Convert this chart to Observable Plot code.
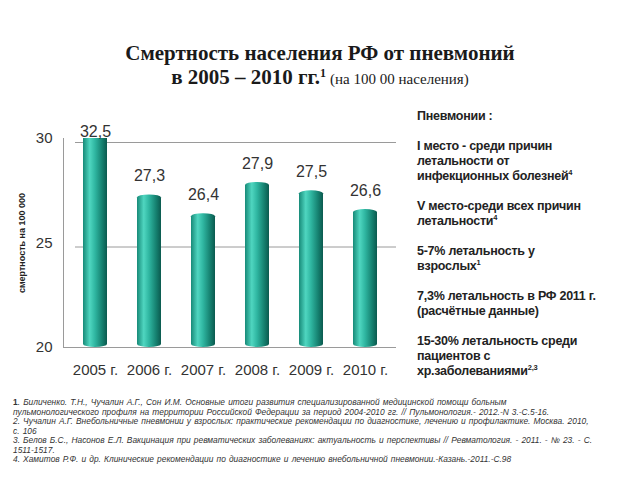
<!DOCTYPE html>
<html>
<head>
<meta charset="utf-8">
<script src="https://cdn.jsdelivr.net/npm/d3@7"></script>
<script src="https://cdn.jsdelivr.net/npm/@observablehq/plot@0.6"></script>
<style>
  html, body { margin: 0; padding: 0; background: #fff; width: 640px; height: 480px; overflow: hidden; }
  #title { position: absolute; left: 0; top: 41px; width: 640px; text-align: center;
    font-family: "Liberation Serif", "Times New Roman", serif; color: #1a1a1a; line-height: 24px; }
  #title .big { font-size: 21px; font-weight: bold; }
  #title sup { font-size: 12px; vertical-align: 7px; line-height: 0; }
  #title .small { font-size: 15px; font-weight: normal; }
  #chart { position: absolute; left: 0; top: 100px; }
  #side { position: absolute; left: 417px; top: 109px; width: 220px;
    font-family: Arial, "Liberation Sans", sans-serif; font-weight: bold; font-size: 12.5px;
    line-height: 15px; color: #222; letter-spacing: -0.25px; white-space: nowrap; }
  #side sup { font-size: 7.5px; vertical-align: 5px; line-height: 0; }
  #notes { position: absolute; left: 13px; top: 398px; width: 620px;
    font-family: Arial, "Liberation Sans", sans-serif; font-style: italic; font-size: 8.4px;
    line-height: 9.5px; color: #333; white-space: nowrap; word-spacing: 0.8px; }
  #notes div { height: 9.5px; }
  #notes span { display: inline-block; }
  #notes b { font-style: normal; }
  #chart svg [aria-label="y-axis label"] text, #chart svg [aria-label="y-axis label"] { font-size: 9px; font-weight: bold; fill: #222; }
</style>
</head>
<body>
<div id="title">
  <div class="big">Смертность населения РФ от пневмоний</div>
  <div><span class="big">в 2005 – 2010 гг.<sup>1</sup></span> <span class="small">(на 100 00 населения)</span></div>
</div>
<div id="chart"></div>
<div id="side">
Пневмонии :<br><br>
I место - среди причин<br>летальности от<br>инфекционных болезней<sup>4</sup><br><br>
V место-среди всех причин<br>летальности<sup>4</sup><br><br>
5-7% летальность у<br>взрослых<sup>1</sup><br><br>
7,3% летальность в РФ 2011 г.<br>(расчётные данные)<br><br>
15-30% летальность среди<br>пациентов с<br>хр.заболеваниями<sup>2,3</sup>
</div>
<div id="notes">
<div><b>1</b>. Биличенко. Т.Н., Чучалин А.Г., Сон И.М. Основные итоги развития специализированной  медицинской помощи больным</div>
<div><span data-w="520">пульмонологического профиля на территории Российской Федерации за период 2004-2010 гг. // Пульмонология.- 2012.-N 3.-C.5-16.</span></div>
<div><span data-w="527">2. Чучалин А.Г. Внебольничные пневмонии у взрослых: практические рекомендации по диагностике, лечению и профилактике. Москва. 2010,</span></div>
<div>c. 106</div>
<div><span data-w="536">3. Белов Б.С., Насонов Е.Л. Вакцинация при ревматических заболеваниях: актуальность и перспективы // Ревматология. - 2011. - № 23. - С.</span></div>
<div>1511-1517.</div>
<div>4. Хамитов Р.Ф. и др. Клинические рекомендации  по диагностике и лечению внебольничной пневмонии.-Казань.-2011.-С.98</div>
</div>
<script>
const years = ["2005 г.", "2006 г.", "2007 г.", "2008 г.", "2009 г.", "2010 г."];
const values = [32.5, 27.3, 26.4, 27.9, 27.5, 26.6];
const yTicks = [20, 25, 30];
const yDomain = [20, 30];
const gridValues = [25, 30];

const data = years.map((year, i) => ({year, value: values[i]}));
const fmt = v => v.toFixed(1).replace(".", ",");

const svg = Plot.plot({
  width: 400,
  height: 290,
  marginTop: 38,
  marginBottom: 43,
  marginLeft: 63,
  marginRight: 4,
  style: {fontFamily: "Arial, 'Liberation Sans', sans-serif", fontSize: "15px", color: "#333", background: "transparent"},
  x: {domain: years, paddingInner: 0.56, paddingOuter: 0.33, tickSize: 0, tickPadding: 17, label: null},
  y: {domain: yDomain, ticks: yTicks, tickSize: 0, tickPadding: 11, label: "смертность на 100 000", labelAnchor: "center", labelArrow: "none", labelOffset: 45},
  marks: [
    Plot.ruleY(gridValues, {stroke: "#9a9a9a", insetLeft: 12, dy: 4}),
    Plot.ruleY([yDomain[0]], {stroke: "#9a9a9a"}),
    Plot.frame({anchor: "left", stroke: "#9a9a9a"}),
    Plot.barY(data, {x: "year", y1: yDomain[0], y2: "value", fill: "url(#cyl)", rx: 12, ry: 3, clip: true}),
    Plot.text(data, {x: "year", y: d => Math.min(d.value + 0.9, 30.3), text: d => fmt(d.value), fontSize: 16, fill: "#333"})
  ]
});

const defs = d3.select(svg).insert("defs", ":first-child");
const g = defs.append("linearGradient").attr("id", "cyl").attr("x1", "0").attr("x2", "1").attr("y1", "0").attr("y2", "0");
[["0%", "#178a78"], ["28%", "#4fd6c0"], ["50%", "#2fb6a1"], ["80%", "#15806f"], ["100%", "#0b5a4f"]]
  .forEach(([o, c]) => g.append("stop").attr("offset", o).attr("stop-color", c));

document.getElementById("chart").appendChild(svg);

// stretch justified footnote lines to their widths in the reference
document.querySelectorAll("#notes span[data-w]").forEach(s => {
  const target = +s.dataset.w;
  const w = s.getBoundingClientRect().width;
  const spaces = (s.textContent.match(/ /g) || []).length;
  if (spaces && w < target) s.style.wordSpacing = (0.8 + (target - w) / spaces) + "px";
});
</script>
</body>
</html>
